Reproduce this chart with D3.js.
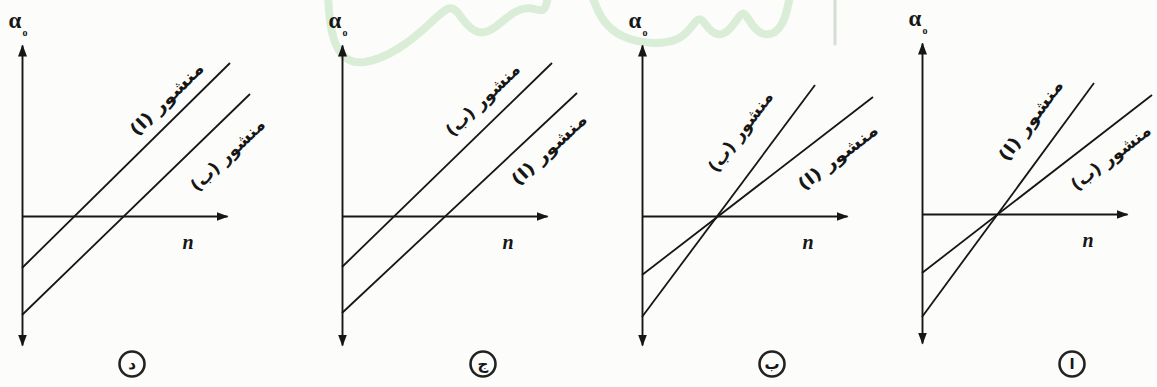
<!DOCTYPE html>
<html>
<head>
<meta charset="utf-8">
<script src="https://cdn.jsdelivr.net/npm/d3@7/dist/d3.min.js"></script>
<style>
  html, body { margin: 0; padding: 0; background: #fcfdfb; }
  svg { display: block; }
</style>
</head>
<body>
<svg id="chart" width="1157" height="387"></svg>
<script>
// ---- data -------------------------------------------------------------
// four sketches of deviation angle α against refractive index n
const panelTags = ["د", "ج", "ب", "ا"];
const seriesNames = ["منشور (ا)", "منشور (ب)"];

// prism (ا): α at n = 0, and the end point of its line
const prismAStart = [-2.6, -4.85, -2.95, -5.15];
const prismAEndN = [10.4, 11.75, 11.55, 8.6];
const prismAEndAlpha = [7.65, 6.15, 5.95, 6.55];

// prism (ب): α at n = 0, and the end point of its line
const prismBStart = [-4.95, -2.55, -5.05, -2.95];
const prismBEndN = [11.4, 10.5, 8.65, 11.5];
const prismBEndAlpha = [6.1, 7.65, 6.55, 5.95];

// axis extents in data units
const nDomain = [0, 10.25];
const alphaDomain = [-6.45, 8.55];

// ---- layout -----------------------------------------------------------
const originX = [22, 342, 642, 922];
const originY = [216, 216, 216, 214];
const tagOffsetX = [110, 141, 130, 150];
const labelAN = [7.9, 9.6, 9.0, 6.6];
const labelAShift = [-19, 22, 26, -29];
const labelBN = [9.3, 7.8, 6.2, 8.7];
const labelBShift = [28, -22, -32, 24];

const ink = "#161616";
const svg = d3.select("#chart");

// faint logo strokes across the top
const wm = svg.append("g").attr("class", "logo").attr("fill", "none")
  .attr("stroke-linecap", "round").attr("stroke-linejoin", "round");
const curve = d3.line().curve(d3.curveBasis);
wm.append("path")
  .attr("d", curve([[328, -4], [330, 30], [340, 58], [362, 66], [400, 50], [432, 22], [452, 2],
                    [462, 20], [478, 36], [496, 28], [512, 12], [530, 6], [545, 14], [548, -4]]))
  .attr("stroke", "#cfe7c9").attr("stroke-width", 8).attr("opacity", 0.75);
wm.append("path")
  .attr("d", curve([[592, -4], [602, 22], [622, 38], [650, 44], [676, 42], [690, 30], [700, 14],
                    [708, 30], [722, 38], [736, 22], [744, 8], [752, 28], [768, 38], [784, 26], [790, -4]]))
  .attr("stroke", "#cfe7c9").attr("stroke-width", 8).attr("opacity", 0.75);
wm.append("line").attr("x1", 835).attr("x2", 835).attr("y1", 0).attr("y2", 44)
  .attr("stroke", "#d8dcd6").attr("stroke-width", 3);

// arrow head
svg.append("defs").append("marker")
  .attr("id", "arrow")
  .attr("viewBox", "0 -5 12 10")
  .attr("refX", 11).attr("refY", 0)
  .attr("markerWidth", 12).attr("markerHeight", 10)
  .attr("markerUnits", "userSpaceOnUse")
  .attr("orient", "auto-start-reverse")
  .append("path").attr("d", "M0,-4.5L12,0L0,4.5Z").attr("fill", ink);

panelTags.forEach((tag, i) => {
  const ox = originX[i], oy = originY[i];
  const x = d3.scaleLinear().domain(nDomain).range([ox, ox + 205]);
  const y = d3.scaleLinear().domain(alphaDomain).range([oy + 129, oy - 171]);
  const g = svg.append("g").attr("class", "panel");

  // n axis
  const gx = g.append("g").attr("transform", `translate(0,${oy})`)
    .call(d3.axisBottom(x).tickValues([]).tickSizeOuter(0));
  gx.select(".domain").attr("stroke", ink).attr("stroke-width", 1.9)
    .attr("marker-end", "url(#arrow)");

  // α axis, arrows at both ends
  const gy = g.append("g").attr("transform", `translate(${ox},0)`)
    .call(d3.axisLeft(y).tickValues([]).tickSizeOuter(0));
  gy.select(".domain").attr("stroke", ink).attr("stroke-width", 1.9)
    .attr("marker-start", "url(#arrow)").attr("marker-end", "url(#arrow)");

  // axis titles
  const at = g.append("text").attr("x", x(0) - 4).attr("y", y(alphaDomain[1]) - 17)
    .attr("text-anchor", "middle")
    .attr("font-family", "Liberation Serif").attr("font-weight", "bold")
    .attr("font-size", 23).attr("fill", ink).text("α");
  at.append("tspan").attr("dx", 1).attr("dy", 8).attr("font-size", 10).text("o");

  g.append("text").attr("x", x(8.3)).attr("y", oy + 33)
    .attr("text-anchor", "middle")
    .attr("font-family", "Liberation Serif").attr("font-style", "italic")
    .attr("font-weight", "bold").attr("font-size", 20).attr("fill", ink).text("n");

  // the two prism lines
  const series = [
    { name: seriesNames[0], pts: [{ n: 0, a: prismAStart[i] }, { n: prismAEndN[i], a: prismAEndAlpha[i] }],
      ln: labelAN[i], shift: labelAShift[i] },
    { name: seriesNames[1], pts: [{ n: 0, a: prismBStart[i] }, { n: prismBEndN[i], a: prismBEndAlpha[i] }],
      ln: labelBN[i], shift: labelBShift[i] }
  ];
  const line = d3.line().x(d => x(d.n)).y(d => y(d.a));

  series.forEach(s => {
    g.append("path").attr("d", line(s.pts))
      .attr("fill", "none").attr("stroke", ink).attr("stroke-width", 1.8);

    const [p0, p1] = s.pts;
    const aAt = p0.a + (p1.a - p0.a) * (s.ln - p0.n) / (p1.n - p0.n);
    const ang = Math.atan2(y(p1.a) - y(p0.a), x(p1.n) - x(p0.n)) * 180 / Math.PI;
    g.append("text")
      .attr("transform", `translate(${x(s.ln)},${y(aAt)}) rotate(${ang}) translate(0,${s.shift})`)
      .attr("text-anchor", "middle").attr("dominant-baseline", "central")
      .attr("direction", "rtl")
      .attr("font-family", "DejaVu Sans").attr("font-weight", "bold")
      .attr("font-size", 17).attr("fill", ink)
      .attr("textLength", 96).attr("lengthAdjust", "spacingAndGlyphs")
      .text(s.name);
  });

  // circled panel tag
  const cx = ox + tagOffsetX[i], cy = 364;
  g.append("circle").attr("cx", cx).attr("cy", cy).attr("r", 12.5)
    .attr("fill", "none").attr("stroke", "#222").attr("stroke-width", 2.6);
  g.append("text").attr("x", cx).attr("y", cy)
    .attr("text-anchor", "middle").attr("dominant-baseline", "central")
    .attr("font-family", "DejaVu Sans").attr("font-weight", "bold")
    .attr("font-size", 15).attr("fill", ink).text(tag);
});
</script>
</body>
</html>
